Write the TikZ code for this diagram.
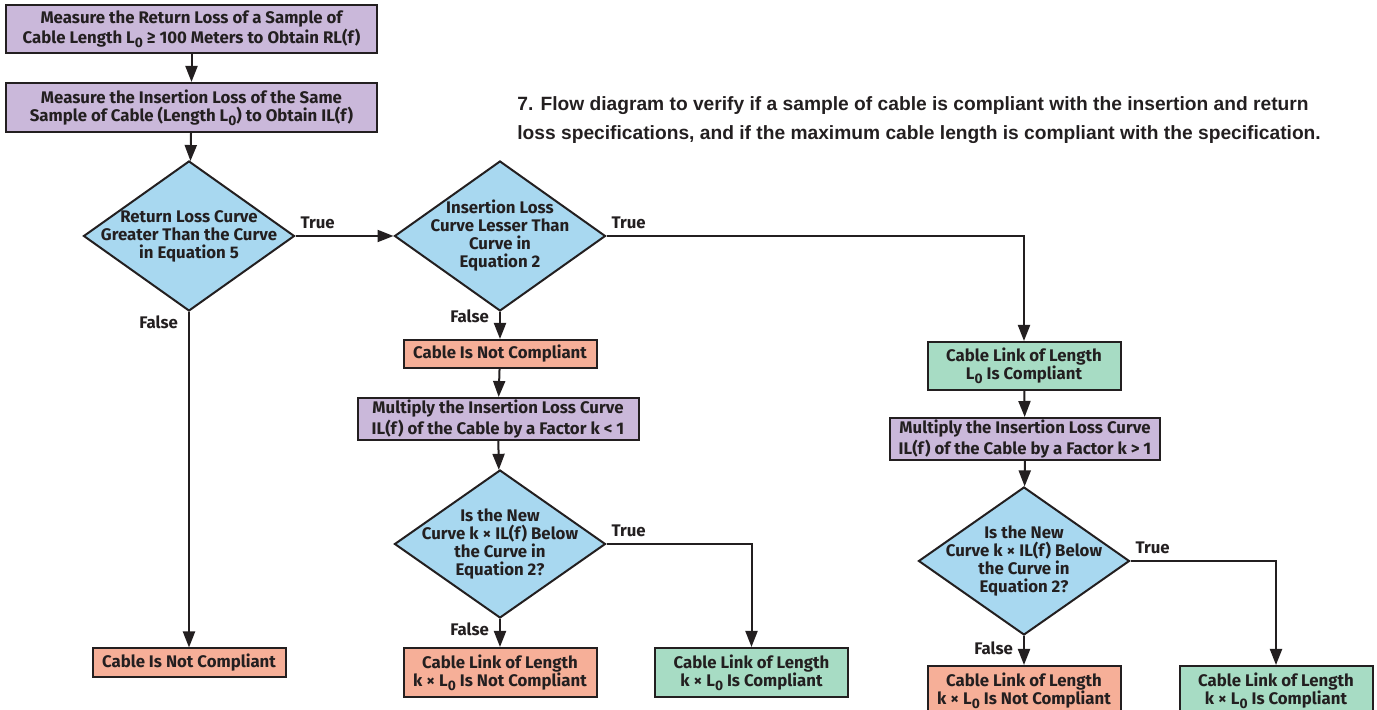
\documentclass[tikz,border=0pt]{standalone}
\usepackage{fontspec}
\setmainfont{Fira Sans}
\newfontfamily\capfont{Liberation Sans}
\usetikzlibrary{shapes.geometric,arrows.meta}
\definecolor{inkgray}{HTML}{231F20}
\definecolor{procpurple}{HTML}{CAB8DA}
\definecolor{decblue}{HTML}{A8D8F0}
\definecolor{failred}{HTML}{F6AF98}
\definecolor{passgreen}{HTML}{A7DCC4}
\tikzset{
  box/.style={draw=inkgray,line width=1pt,align=center,inner sep=0pt,text=inkgray,
    font=\fontsize{8.4}{9}\selectfont\bfseries},
  purplebox/.style={box,fill=procpurple,minimum width=185.5pt,minimum height=24pt},
  redbox/.style={box,fill=failred,minimum width=96.5pt,minimum height=24.5pt},
  greenbox/.style={box,fill=passgreen,minimum width=96.5pt,minimum height=24.5pt},
  decision/.style={diamond,draw=inkgray,line width=1pt,fill=decblue,inner sep=0pt,
    minimum width=105.5pt,minimum height=74pt},
  dtext/.style={align=center,text=inkgray,inner sep=0pt,font=\fontsize{8.4}{9}\selectfont\bfseries},
  lbl/.style={text=inkgray,inner sep=0pt,font=\fontsize{8.4}{9}\selectfont\bfseries},
  flow/.style={draw=inkgray,line width=1pt,-{Triangle[length=8pt,width=6pt]}}
}
\newcommand{\Lo}{L\raisebox{-0.45ex}{\fontsize{6.9}{7}\selectfont 0}}
\begin{document}
\begin{tikzpicture}[x=0.5pt,y=-0.5pt]
    \useasboundingbox (0,0) rectangle (1377,710);
    %% Measuring
    \node[purplebox] (rl) at (191.5,29.5) {Measure the Return Loss of a Sample of\\Cable Length \Lo{} ≥ 100 Meters to Obtain RL(f)};
    \node[purplebox,minimum height=24.5pt] (il) at (191.5,107.5) {Measure the Insertion Loss of the Same\\Sample of Cable (Length \Lo) to Obtain IL(f)};
    %% Decisions
    \node[decision,minimum height=75pt,label={[dtext]center:Return Loss Curve\\Greater Than the Curve\\in Equation 5}] (rlchk) at (189,236) {};
    \node[decision,minimum height=75pt,label={[dtext]center:Insertion Loss\\Curve Lesser Than\\Curve in\\Equation 2}] (ilchk) at (500,236) {};
    %% Middle column
    \node[redbox,minimum height=14pt] (nc) at (500,354) {Cable Is Not Compliant};
    \node[purplebox,minimum width=140.5pt,minimum height=21pt] (mlow) at (498,419) {Multiply the Insertion Loss Curve\\IL(f) of the Cable by a Factor k < 1};
    \node[decision,label={[dtext]center:Is the New\\Curve k × IL(f) Below\\the Curve in\\Equation 2?}] (lowchk) at (500,544) {};
    \node[redbox] (lownc) at (500,672.5) {Cable Link of Length\\k × \Lo{} Is Not Compliant};
    \node[greenbox] (lowok) at (751.5,672.5) {Cable Link of Length\\k × \Lo{} Is Compliant};
    %% Right column
    \node[greenbox,minimum height=24pt] (ok) at (1024,366) {Cable Link of Length\\\Lo{} Is Compliant};
    \node[purplebox,minimum width=135pt,minimum height=21pt] (mhigh) at (1025,439) {Multiply the Insertion Loss Curve\\IL(f) of the Cable by a Factor k > 1};
    \node[decision,label={[dtext]center:Is the New\\Curve k × IL(f) Below\\the Curve in\\Equation 2?}] (highchk) at (1024,561) {};
    \node[redbox] (highnc) at (1024,690.5) {Cable Link of Length\\k × \Lo{} Is Not Compliant};
    \node[greenbox] (highok) at (1276,690.5) {Cable Link of Length\\k × \Lo{} Is Compliant};
    %% Left column
    \node[redbox,minimum height=14.5pt] (leftnc) at (189,663) {Cable Is Not Compliant};
    %% Caption
    \node[anchor=north west,align=left,inner sep=0pt,text=inkgray,font=\capfont\fontsize{9.6}{14.5}\selectfont\bfseries] (cap) at (517,96)
        {7. Flow diagram to verify if a sample of cable is compliant with the insertion and return\\loss specifications, and if the maximum cable length is compliant with the specification.};
    %% Connectors
    \draw[flow] (rl) -- (il);
    \draw[flow] (il) -- (rlchk);
    \draw[flow] (rlchk) -- (ilchk) node[lbl,pos=0,anchor=south west,xshift=2pt,yshift=3pt] {True};
    \draw[flow] (rlchk.south) -- (leftnc) node[lbl,pos=0,anchor=east,xshift=-5pt,yshift=-5pt] {False};
    \draw[flow] (ilchk.east) -| (ok.north) node[lbl,pos=0,anchor=south west,xshift=2pt,yshift=3pt] {True};
    \draw[flow] (ilchk.south) -- (nc) node[lbl,pos=0,anchor=east,xshift=-5pt,yshift=-2pt] {False};
    \draw[flow] (nc) -- (mlow);
    \draw[flow] (mlow) -- (lowchk);
    \draw[flow] (lowchk.south) -- (lownc) node[lbl,pos=0,anchor=east,xshift=-5pt,yshift=-5pt] {False};
    \draw[flow] (lowchk.east) -| (lowok.north) node[lbl,pos=0,anchor=south west,xshift=2pt,yshift=3pt] {True};
    \draw[flow] (ok) -- (mhigh);
    \draw[flow] (mhigh) -- (highchk);
    \draw[flow] (highchk.south) -- (highnc) node[lbl,pos=0,anchor=east,xshift=-5pt,yshift=-6pt] {False};
    \draw[flow] (highchk.east) -| (highok.north) node[lbl,pos=0,anchor=south west,xshift=2pt,yshift=3pt] {True};
\end{tikzpicture}
\end{document}
